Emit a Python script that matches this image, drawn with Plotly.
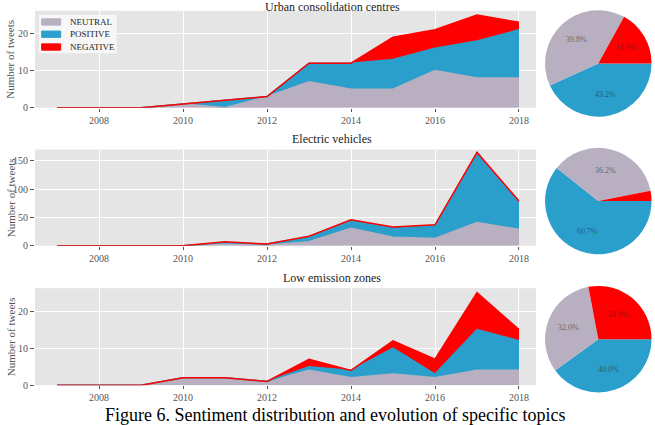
import math
import plotly.graph_objects as go

years = list(range(2007, 2019))

# Urban consolidation centres
ucc_neutral = [0, 0, 0, 1, 0, 3, 7, 5, 5, 10, 8, 8]
ucc_positive = [0, 0, 0, 0, 2, 0, 5, 7, 8, 6, 10, 13]
ucc_negative = [0, 0, 0, 0, 0, 0, 0, 0, 6, 5, 7, 2]

# Electric vehicles
ev_neutral = [0, 0, 0, 0, 3, 1, 7, 31, 15, 13, 41, 29]
ev_positive = [0, 0, 0, 0, 3, 2, 9, 13, 16, 23, 122, 47]
ev_negative = [0, 0, 0, 0, 1, 0, 1, 2, 2, 1, 2, 3]

# Low emission zones
lez_neutral = [0, 0, 0, 2, 2, 1, 4, 2, 3, 2, 4, 4]
lez_positive = [0, 0, 0, 0, 0, 0, 1, 2, 7, 1, 11, 8]
lez_negative = [0, 0, 0, 0, 0, 0, 2, 0, 2, 4, 10, 3]

topics = ["Urban consolidation centres", "Electric vehicles", "Low emission zones"]
sentiments = ["NEUTRAL", "POSITIVE", "NEGATIVE"]
y_ticks = [[0, 10, 20], [0, 50, 100, 150], [0, 10, 20]]
y_ranges = [[0, 26.1], [0, 170], [0, 26.2]]
x_tick_vals = [2008, 2010, 2012, 2014, 2016, 2018]

series = [
    (ucc_neutral, ucc_positive, ucc_negative),
    (ev_neutral, ev_positive, ev_negative),
    (lez_neutral, lez_positive, lez_negative),
]

colors = {"NEUTRAL": "#B8B0C0", "POSITIVE": "#2A9FCC", "NEGATIVE": "#FF0000"}
SERIF = "Liberation Serif"
W, H = 655, 425

plot_x = (35, 536)
plot_y = [(11, 109.3), (151.7, 249.3), (292.3, 390.7)]
pie_centers_y = [64.3, 204, 344]
pie_cx, pie_r = 598.3, 54
title_y = [7, 140.7, 281.7]

def px2x(p):
    return p / W

def py2y(p):
    return 1 - p / H

fig = go.Figure()
layout = dict(
    width=W, height=H, margin=dict(l=0, r=0, t=0, b=0),
    paper_bgcolor="white", plot_bgcolor="#E5E5E5",
    font=dict(family=SERIF, color="#555555"),
    showlegend=False,
)
annotations = []
shapes = []
for i, (neu, pos, neg) in enumerate(series):
    idx = "" if i == 0 else str(i + 1)
    xa, ya = "x" + idx, "y" + idx
    for name, vals in zip(sentiments, (neu, pos, neg)):
        fig.add_trace(go.Scatter(
            x=years, y=vals, name=name, mode="lines", stackgroup="s%d" % i,
            line=dict(color=colors[name], width=1.5),
            fillcolor=colors[name], xaxis=xa, yaxis=ya,
        ))
    y0, y1 = plot_y[i]
    layout["xaxis" + idx] = dict(
        domain=[px2x(plot_x[0]), px2x(plot_x[1])], anchor=ya,
        range=[2006.475, 2018.405], tickvals=x_tick_vals,
        showgrid=True, gridcolor="white", gridwidth=1, zeroline=False,
        ticks="outside", ticklen=3, tickcolor="#555555",
        tickfont=dict(size=10, color="#555555", family=SERIF),
    )
    layout["yaxis" + idx] = dict(
        domain=[py2y(y1), py2y(y0)], anchor=xa,
        range=y_ranges[i], tickvals=y_ticks[i],
        showgrid=True, gridcolor="white", gridwidth=1, zeroline=False,
        ticks="outside", ticklen=4, tickcolor="#555555",
        tickfont=dict(size=10, color="#555555", family=SERIF),
    )
    annotations.append(dict(
        text="Number of tweets", textangle=-90, xref="paper", yref="paper",
        x=px2x(10.5), y=py2y((y0 + y1) / 2), xanchor="center", yanchor="middle",
        showarrow=False, font=dict(size=11, color="#555555", family=SERIF),
    ))
    annotations.append(dict(
        text=topics[i], xref="paper", yref="paper",
        x=px2x(332), y=py2y(title_y[i]), xanchor="center", yanchor="middle",
        showarrow=False, font=dict(size=12, color="#222222", family=SERIF),
    ))
    cy = pie_centers_y[i]
    totals = {"NEUTRAL": sum(neu), "POSITIVE": sum(pos), "NEGATIVE": sum(neg)}
    tot = sum(totals.values())
    pie_order = ["POSITIVE", "NEUTRAL", "NEGATIVE"]
    fig.add_trace(go.Pie(
        labels=pie_order,
        values=[totals[k] for k in pie_order],
        marker=dict(colors=[colors[k] for k in pie_order]),
        sort=False, direction="clockwise", rotation=90,
        domain=dict(x=[px2x(pie_cx - pie_r), px2x(pie_cx + pie_r)],
                    y=[py2y(cy + pie_r), py2y(cy - pie_r)]),
        textinfo="none", showlegend=False, hoverinfo="label+percent",
    ))
    # percentage labels at 0.6 r along each wedge bisector (ccw from 3 o'clock)
    start = 0.0
    for name in ["NEGATIVE", "NEUTRAL", "POSITIVE"]:
        v = totals[name]
        span = 360.0 * v / tot
        mid = math.radians(start + span / 2)
        start += span
        if 100.0 * v / tot < 5:
            continue
        lx = pie_cx + 0.6 * pie_r * math.cos(mid)
        ly = cy - 0.6 * pie_r * math.sin(mid)
        annotations.append(dict(
            text="%.1f%%" % (100.0 * v / tot), xref="paper", yref="paper",
            x=px2x(lx), y=py2y(ly), xanchor="center", yanchor="middle",
            showarrow=False, font=dict(size=8, color="rgba(40,40,40,0.6)", family=SERIF),
        ))

# legend box in top panel
shapes.append(dict(type="rect", xref="paper", yref="paper",
                   x0=px2x(39), x1=px2x(116.7), y0=py2y(54), y1=py2y(15),
                   fillcolor="rgba(248,248,248,0.95)", line=dict(width=0)))
legend_rows = [22.3, 34.7, 47.7]
for name, ry in zip(sentiments, legend_rows):
    shapes.append(dict(type="rect", xref="paper", yref="paper",
                       x0=px2x(41.7), x1=px2x(60.7), y0=py2y(ry + 3.2), y1=py2y(ry - 3.2),
                       fillcolor=colors[name], line=dict(color=colors[name], width=1)))
    annotations.append(dict(
        text=name, xref="paper", yref="paper", x=px2x(68.3), y=py2y(ry),
        xanchor="left", yanchor="middle", showarrow=False,
        font=dict(size=9, color="#222222", family=SERIF),
    ))

annotations.append(dict(
    text="Figure 6. Sentiment distribution and evolution of specific topics",
    xref="paper", yref="paper", x=px2x(334.5), y=py2y(421),
    xanchor="center", yanchor="middle", showarrow=False,
    font=dict(size=18, color="#000000", family=SERIF),
))
layout["annotations"] = annotations
layout["shapes"] = shapes
fig.update_layout(**layout)
fig.write_html("out.html")
